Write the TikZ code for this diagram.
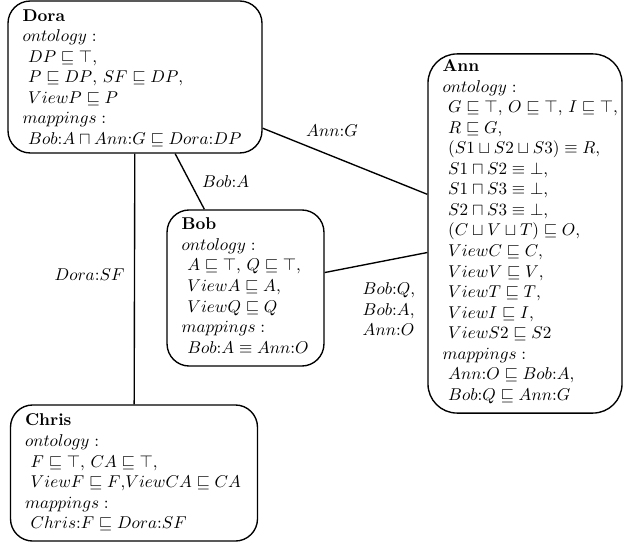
\documentclass[tikz,border=0pt]{standalone}
\usepackage{amssymb}
\begin{document}
\begin{tikzpicture}[x=0.585pt,y=-0.585pt,
  peer/.style={draw, line width=0.8pt, rounded corners=13pt, align=left,
               inner xsep=8.5pt, inner ysep=0pt},
  link/.style={line width=0.8pt},
  lbl/.style={inner sep=1pt, align=left}]
\useasboundingbox (0,0) rectangle (624,543);

\node[peer, text width=131.6pt, text height=11.7pt, text depth=77.2pt] (dora) at (135,77)
{\begin{tabular}[t]{@{}l@{}}
\textbf{Dora}\\
$ontology:$\\
\ $DP \sqsubseteq \top$,\\
\ $P \sqsubseteq DP$, $SF \sqsubseteq DP$,\\
\ $ViewP \sqsubseteq P$\\
$mappings:$\\
\ $Bob{:}A \sqcap Ann{:}G \sqsubseteq Dora{:}DP$
\end{tabular}};

\node[peer, rounded corners=17pt, text width=96.5pt, text height=10.5pt, text depth=199.6pt] (ann) at (525,233.5)
{\begin{tabular}[t]{@{}l@{}}
\textbf{Ann}\\
$ontology:$\\
\ $G \sqsubseteq \top$, $O \sqsubseteq \top$, $I \sqsubseteq \top$,\\
\ $R \sqsubseteq G$,\\
\ $(S1 \sqcup S2 \sqcup S3) \equiv R$,\\
\ $S1 \sqcap S2 \equiv \bot$,\\
\ $S1 \sqcap S3 \equiv \bot$,\\
\ $S2 \sqcap S3 \equiv \bot$,\\
\ $(C \sqcup V \sqcup T) \sqsubseteq O$,\\
\ $ViewC \sqsubseteq C$,\\
\ $ViewV \sqsubseteq V$,\\
\ $ViewT \sqsubseteq T$,\\
\ $ViewI \sqsubseteq I$,\\
\ $ViewS2 \sqsubseteq S2$\\
$mappings:$\\
\ $Ann{:}O \sqsubseteq Bob{:}A$,\\
\ $Bob{:}Q \sqsubseteq Ann{:}G$
\end{tabular}};

\node[peer, text width=74.8pt, text height=11.7pt, text depth=79.6pt] (bob) at (245.5,288)
{\begin{tabular}[t]{@{}l@{}}
\textbf{Bob}\\
$ontology:$\\
\ $A \sqsubseteq \top$, $Q \sqsubseteq \top$,\\
\ $ViewA \sqsubseteq A$,\\
\ $ViewQ \sqsubseteq Q$\\
$mappings:$\\
\ $Bob{:}A \equiv Ann{:}O$
\end{tabular}};

\node[peer, text width=127.5pt, text height=12.3pt, text depth=67.3pt] (chris) at (134,473)
{\begin{tabular}[t]{@{}l@{}}
\textbf{Chris}\\
$ontology:$\\
\ $F \sqsubseteq \top$, $CA \sqsubseteq \top$,\\
\ $ViewF \sqsubseteq F$,$ViewCA \sqsubseteq CA$\\
$mappings:$\\
\ $Chris{:}F \sqsubseteq Dora{:}SF$
\end{tabular}};

\draw[link] (dora) -- node[midway, lbl, xshift=-7.6pt, yshift=18.1pt] {$Ann{:}G$} (ann);
\draw[link] (dora) -- node[midway, lbl, xshift=21pt] {$Bob{:}A$} (bob);
\draw[link] (dora) -- node[midway, lbl, xshift=-26.3pt, yshift=2.3pt] {$Dora{:}SF$} (chris);
\draw[link] (bob) -- node[midway, lbl, xshift=7.6pt, yshift=-27.5pt] {$Bob{:}Q$,\\$Bob{:}A$,\\$Ann{:}O$} (ann);
\end{tikzpicture}
\end{document}
